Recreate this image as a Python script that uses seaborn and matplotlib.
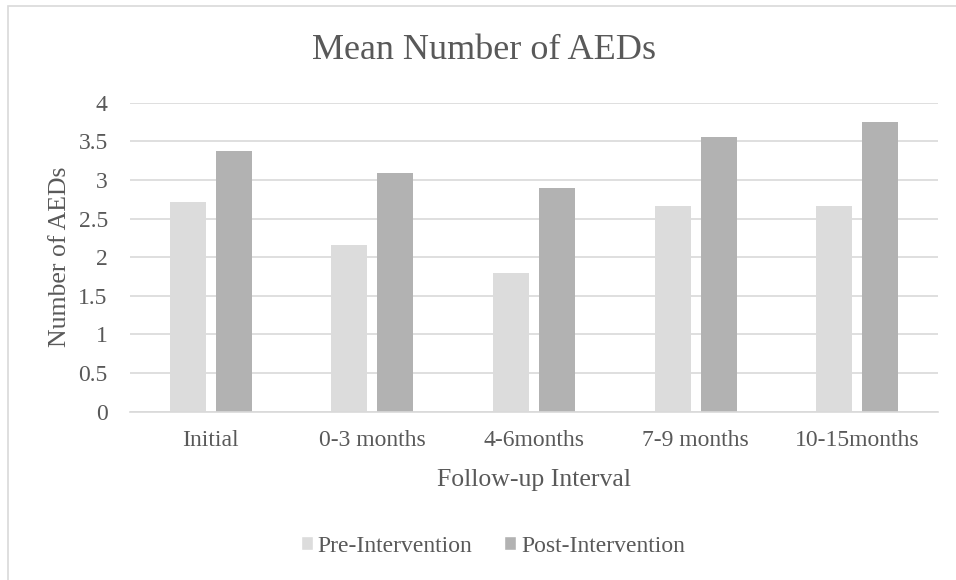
import matplotlib
matplotlib.use("Agg")
import matplotlib.pyplot as plt
from matplotlib.patches import Rectangle
import pandas as pd
import seaborn as sns

# Follow-up intervals and mean AED counts per group
intervals = ["Initial", "0-3 months", "4-6months", "7-9 months", "10-15months"]
pre_intervention = [2.71, 2.16, 1.80, 2.66, 2.66]
post_intervention = [3.38, 3.09, 2.90, 3.55, 3.75]
groups = ["Pre-Intervention", "Post-Intervention"]
y_ticks = [0, 0.5, 1, 1.5, 2, 2.5, 3, 3.5, 4]

TEXT = "#595959"
GRID = "#d9d9d9"
COLORS = ["#dcdcdc", "#b2b2b2"]

sns.set_theme(style="white")
plt.rcParams["font.family"] = ["Liberation Serif", "DejaVu Serif"]

df = pd.DataFrame({
    "Interval": intervals * 2,
    "Group": [groups[0]] * len(intervals) + [groups[1]] * len(intervals),
    "Value": pre_intervention + post_intervention,
})

W, H = 956, 580
fig = plt.figure(figsize=(W / 100, H / 100), dpi=100)
ax = fig.add_axes([130 / W, 1 - 411.7 / H, (938 - 130) / W, (411.7 - 102.7) / H])

sns.barplot(data=df, x="Interval", y="Value", hue="Group", order=intervals,
            hue_order=groups, palette=COLORS, saturation=1, width=0.569,
            errorbar=None, ax=ax)

# narrow each bar so that a small gap separates the pair
bar_w = 0.223
for cont in ax.containers:
    for p in cont:
        cx = p.get_x() + p.get_width() / 2
        p.set_width(bar_w)
        p.set_x(cx - bar_w / 2)
        p.set_edgecolor("none")

ax.set_ylim(0, 4)
ax.set_xlim(-0.5, len(intervals) - 0.5)
ax.set_yticks(y_ticks)
ax.set_yticklabels([f"{t:g}" for t in y_ticks])
ax.yaxis.grid(True, color=GRID, linewidth=1.2)
ax.set_axisbelow(True)
for side in ["top", "right", "left"]:
    ax.spines[side].set_visible(False)
ax.spines["bottom"].set_color(GRID)
ax.spines["bottom"].set_linewidth(1.2)
ax.tick_params(axis="both", length=0, labelsize=17, labelcolor=TEXT)
ax.tick_params(axis="y", pad=16)
ax.tick_params(axis="x", pad=13)

ax.set_xlabel("Follow-up Interval", fontsize=18.5, color=TEXT, labelpad=13)
ax.set_ylabel("Number of AEDs", fontsize=18.5, color=TEXT, labelpad=5.5)

fig.text(483.5 / W, 1 - 59 / H, "Mean Number of AEDs", fontsize=26,
         color=TEXT, ha="center", va="baseline")

handles, labels = ax.get_legend_handles_labels()
ax.legend(handles, labels, loc="center", bbox_to_anchor=(493 / W, 1 - 546 / H),
          bbox_transform=fig.transFigure, ncol=2, frameon=False, fontsize=17,
          labelcolor=TEXT, handlelength=0.5, handleheight=0.5,
          handletextpad=0.2, columnspacing=1.35, borderaxespad=0)

# chart-area outline
fig.patches.append(Rectangle((8 / W, -0.1), 1.2, 1 - 6 / H + 0.1,
                             transform=fig.transFigure, fill=False,
                             edgecolor=GRID, linewidth=1.2))

fig.savefig("out.png", dpi=100)
